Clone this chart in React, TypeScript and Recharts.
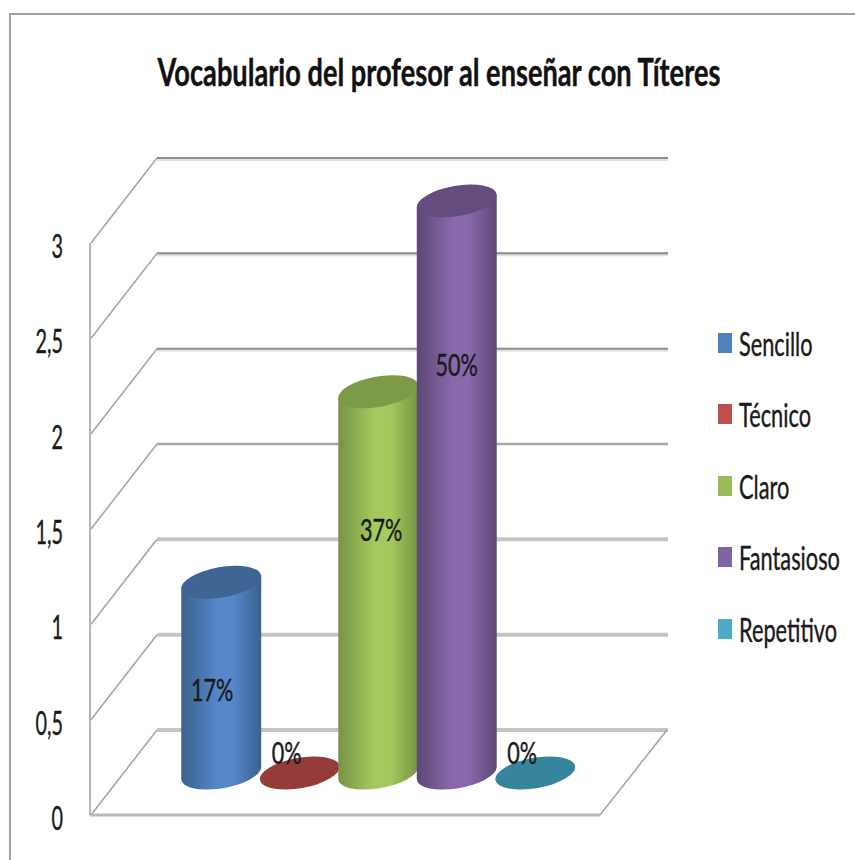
import { Bar, BarChart, CartesianGrid, LabelList, Legend, XAxis, YAxis } from "recharts";

const SERIES_NAMES = ["Sencillo", "Técnico", "Claro", "Fantasioso", "Repetitivo"];
const SERIES_VALUES = [1, 0, 2, 3, 0];
const PERCENT_LABELS = ["17%", "0%", "37%", "50%", "0%"];
const AXIS_TICKS = [0, 0.5, 1, 1.5, 2, 2.5, 3];

const LEGEND_COLORS = ["#4f81bd", "#c0504d", "#9bbb59", "#8064a2", "#4bacc6"];
const CAP_COLORS = ["#3e6594", "#943c3a", "#7d9a48", "#644d7e", "#36859c"];
const EDGE_COLORS = ["#3a618f", "#8d3a38", "#779244", "#5c4775", "#33809a"];
const MID_COLORS = ["#5687c8", "#c8534f", "#a4ca5e", "#8a68ad", "#4db2cd"];

// where each percent label sits relative to the top of its cylinder
const LABEL_DX = [-9, -13, 3, 0, -13];
const LABEL_DY = [108, -20, 138, 164, -20];

const WIDTH = 855;
const HEIGHT = 860;
const PLOT_LEFT = 90;
const PLOT_RIGHT = 600;
const FONT = "Lato, sans-serif";

// 3D look: back wall offset from the front plane, bars stand half way in
const DEPTH_X = 67;
const DEPTH_Y = -85;
const BAR_DX = 33;
const BAR_DY = -42;

const RX = 40.5;
const RY = 15.2;
const TILT = -10;

const chartRow: Record<string, string | number> = { name: "" };
SERIES_NAMES.forEach((name, i) => {
  chartRow[name] = SERIES_VALUES[i];
  chartRow[`${name}Label`] = PERCENT_LABELS[i];
});
const chartData = [chartRow];

function Squeezed({ x, y, sx, size, anchor, weight, fill, children }: any) {
  return (
    <text
      transform={`translate(${x} ${y}) scale(${sx} 1)`}
      fontFamily={FONT}
      fontSize={size}
      fontWeight={weight ?? 400}
      fill={fill ?? "#1a1a1a"}
      stroke={fill ?? "#1a1a1a"}
      strokeWidth={0.4}
      textAnchor={anchor ?? "start"}
    >
      {children}
    </text>
  );
}

// one grid line of the chart, drawn as diagonal + back wall line
function WallLine({ x1, x2, y1, y, height }: any) {
  const isFloor = Math.abs(y1 - (y + height)) < 1;
  const isUpper = y1 < y + height * 0.45;
  const isMiddle = !isUpper && y1 < y + height * 0.55;
  const lineColor = isUpper ? "#8f8f8f" : isMiddle ? "#a8a8a8" : "#c4c4c4";
  const lineWidth = isUpper ? 2 : isMiddle ? 2.5 : 4;
  return (
    <g>
      <line
        x1={x1 + 1}
        y1={y1}
        x2={x1 + DEPTH_X}
        y2={y1 + DEPTH_Y}
        stroke="#a6a6a6"
        strokeWidth={1.6}
      />
      {isUpper && (
        <line
          x1={x1 + DEPTH_X}
          y1={y1 + DEPTH_Y + 1}
          x2={x2 + DEPTH_X + 1}
          y2={y1 + DEPTH_Y + 1}
          stroke="#e0e0e0"
          strokeWidth={4}
        />
      )}
      <line
        x1={x1 + DEPTH_X}
        y1={y1 + DEPTH_Y}
        x2={x2 + DEPTH_X + 1}
        y2={y1 + DEPTH_Y}
        stroke={lineColor}
        strokeWidth={lineWidth}
      />
      {isFloor && (
        <g>
          <line
            x1={x2}
            y1={y1}
            x2={x2 + DEPTH_X}
            y2={y1 + DEPTH_Y}
            stroke="#a6a6a6"
            strokeWidth={1.6}
          />
          <line x1={x1} y1={y1} x2={x2} y2={y1} stroke="#b8b8b8" strokeWidth={3} />
        </g>
      )}
    </g>
  );
}

function AxisTick({ x, y, payload }: any) {
  return (
    <Squeezed x={x - 19} y={y + 15} sx={0.62} size={32} anchor="end">
      {String(payload.value).replace(".", ",")}
    </Squeezed>
  );
}

function Cylinder({ x, y, width, height, index }: any) {
  const cx = x + width / 2 + BAR_DX;
  const top = y + BAR_DY;
  const bottom = y + height + BAR_DY;
  const rad = (TILT * Math.PI) / 180;
  const extX = Math.sqrt(RX * RX * Math.cos(rad) ** 2 + RY * RY * Math.sin(rad) ** 2);
  const extY = (Math.abs(RX * RX - RY * RY) * Math.sin(-rad) * Math.cos(rad)) / extX;
  const cap = (
    <ellipse
      cx={cx}
      cy={top}
      rx={RX}
      ry={RY}
      fill={CAP_COLORS[index]}
      transform={`rotate(${TILT} ${cx} ${top})`}
    />
  );
  if (height <= 0) return cap;
  const body = [
    `M ${cx - extX} ${top + extY}`,
    `L ${cx - extX} ${bottom + extY}`,
    `A ${RX} ${RY} ${TILT} 0 0 ${cx + extX} ${bottom - extY}`,
    `L ${cx + extX} ${top - extY}`,
    "Z",
  ].join(" ");
  return (
    <g>
      <path d={body} fill={`url(#cyl-${index})`} />
      {cap}
    </g>
  );
}

function PercentLabel({ x, y, width, value, seriesIndex }: any) {
  const cx = x + width / 2 + BAR_DX + LABEL_DX[seriesIndex];
  const top = y + BAR_DY + LABEL_DY[seriesIndex];
  return (
    <Squeezed x={cx} y={top + 11} sx={0.72} size={30} anchor="middle">
      {value}
    </Squeezed>
  );
}

function LegendBox() {
  return (
    <div style={{ position: "absolute", left: 718, top: 0 }}>
      {SERIES_NAMES.map((name, i) => (
        <div key={name} style={{ position: "absolute", left: 0, top: 333 + i * 71.4, whiteSpace: "nowrap" }}>
          <span
            style={{
              position: "absolute",
              left: 0,
              top: 0,
              width: 14,
              height: 20,
              background: LEGEND_COLORS[i],
            }}
          />
          <span
            style={{
              position: "absolute",
              left: 21,
              top: -9,
              fontFamily: FONT,
              fontSize: 32,
              lineHeight: "40px",
              color: "#1a1a1a",
              WebkitTextStroke: "0.4px #1a1a1a",
              transform: "scaleX(0.68)",
              transformOrigin: "left center",
            }}
          >
            {name}
          </span>
        </div>
      ))}
    </div>
  );
}

export default function App() {
  return (
    <div style={{ position: "absolute", left: 0, top: 0, width: WIDTH, height: HEIGHT, background: "#fff" }}>
      <BarChart
        width={WIDTH}
        height={HEIGHT}
        data={chartData}
        margin={{ top: 243, right: WIDTH - PLOT_RIGHT, bottom: 45, left: 0 }}
        barSize={78.5}
        barGap={0}
        style={{ position: "absolute", left: 0, top: 0 }}
      >
        <defs>
          {SERIES_NAMES.map((name, i) => (
            <linearGradient key={name} id={`cyl-${i}`} x1="0" y1="0" x2="1" y2="0">
              <stop offset="0%" stopColor={EDGE_COLORS[i]} />
              <stop offset="45%" stopColor={MID_COLORS[i]} />
              <stop offset="65%" stopColor={MID_COLORS[i]} />
              <stop offset="100%" stopColor={EDGE_COLORS[i]} />
            </linearGradient>
          ))}
        </defs>
        <path d={`M 10 ${HEIGHT} L 10 14 L ${WIDTH} 14`} fill="none" stroke="#a0a0a0" strokeWidth={2} />
        <Squeezed x={439} y={86} sx={0.716} size={38} weight={700} anchor="middle" fill="#111">
          Vocabulario del profesor al enseñar con Títeres
        </Squeezed>
        <CartesianGrid
          vertical={false}
          syncWithTicks
          horizontal={(props: any) => <WallLine key={props.y1} {...props} />}
        />
        <XAxis dataKey="name" hide />
        <YAxis
          width={PLOT_LEFT}
          domain={[0, 3]}
          ticks={AXIS_TICKS}
          tick={<AxisTick />}
          tickLine={false}
          axisLine={{ stroke: "#a6a6a6", strokeWidth: 1.6 }}
          interval={0}
        />
        <Legend
          layout="horizontal"
          verticalAlign="middle"
          align="center"
          wrapperStyle={{ position: "absolute", left: 0, top: 0, width: 0, height: 0 }}
          content={<LegendBox />}
        />
        {SERIES_NAMES.map((name, i) => (
          <Bar
            key={name}
            dataKey={name}
            fill={LEGEND_COLORS[i]}
            isAnimationActive={false}
            shape={(props: any) => <Cylinder {...props} index={i} />}
          >
            <LabelList
              dataKey={`${name}Label`}
              content={(props: any) => <PercentLabel {...props} seriesIndex={i} />}
            />
          </Bar>
        ))}
      </BarChart>
    </div>
  );
}
